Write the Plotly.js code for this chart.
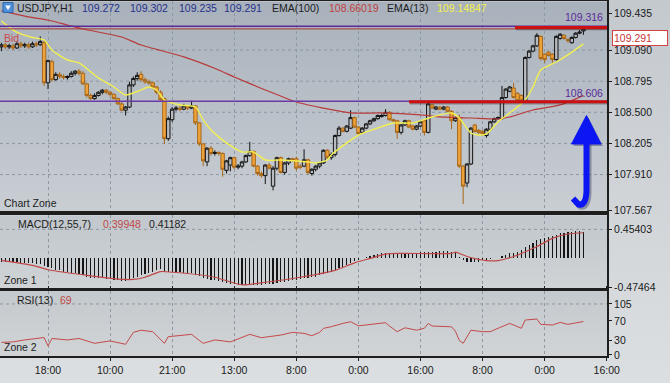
<!DOCTYPE html>
<html><head><meta charset="utf-8">
<script src="https://cdn.plot.ly/plotly-3.0.1.min.js"></script>
<style>html,body{margin:0;padding:0;background:#d4d8db;}#chart{width:670px;height:383px;}</style>
</head><body><div id="chart"></div>
<script>
// ---------- data ----------
const tickBars   = [12, 28, 44, 60, 76, 92, 108, 124, 140, 156];
const tickLabels = ['18:00','10:00','21:00','13:00','8:00','0:00','16:00','8:00','0:00','16:00'];
const priceTicks = [109.435, 109.090, 108.795, 108.500, 108.205, 107.910, 107.567];
const macdTicks  = [0.45403, -0.47464];
const rsiTicks   = [105, 70, 30, 0];

const openP = [
109.12,109.14,109.12,109.13,109.11,109.15,109.13,109.14,109.12,109.15,
109.14,109.16,108.78,108.98,108.81,108.86,108.84,108.83,108.84,108.87,
108.89,108.87,108.77,108.66,108.63,108.66,108.69,108.71,108.69,108.67,
108.63,108.58,108.52,108.55,108.76,108.82,108.86,108.81,108.79,108.78,
108.74,108.69,108.63,108.25,108.43,108.53,108.54,108.53,108.56,108.54,
108.56,108.40,108.20,108.03,108.16,108.11,108.12,108.11,107.95,108.00,
108.07,107.98,107.99,108.03,108.09,108.13,107.99,107.92,107.90,108.00,
107.80,107.97,108.07,107.93,108.02,108.06,108.06,107.99,107.99,108.05,
107.92,107.96,107.99,108.02,108.14,108.07,108.10,108.28,108.35,108.32,
108.35,108.45,108.36,108.31,108.35,108.39,108.42,108.44,108.46,108.47,
108.50,108.43,108.42,108.31,108.38,108.42,108.37,108.34,108.37,108.42,
108.31,108.57,108.53,108.55,108.53,108.55,108.51,108.42,108.45,107.99,
107.83,108.01,108.38,108.33,108.32,108.28,108.34,108.41,108.44,108.44,
108.64,108.70,108.73,108.68,108.66,108.61,109.02,109.08,109.13,109.22,
109.05,109.07,109.05,109.00,109.20,109.23,109.19,109.16,109.21,109.25,
109.272];
const highP = [
109.16,109.16,109.15,109.15,109.17,109.17,109.16,109.16,109.17,109.17,
109.22,109.18,109.00,109.00,108.88,108.88,108.86,108.85,108.89,108.90,
108.91,108.89,108.78,108.68,108.68,108.70,108.72,108.72,108.70,108.68,
108.64,108.60,108.56,108.79,108.84,108.88,108.89,108.83,108.81,108.79,
108.75,108.71,108.64,108.46,108.55,108.56,108.56,108.58,108.57,108.61,
108.57,108.41,108.21,108.17,108.18,108.14,108.13,108.12,108.05,108.08,
108.08,108.01,108.04,108.10,108.22,108.14,108.00,107.94,108.01,108.02,
107.99,108.08,108.08,108.03,108.07,108.07,108.08,108.01,108.15,108.06,
107.97,108.00,108.03,108.15,108.15,108.12,108.29,108.37,108.36,108.38,
108.52,108.46,108.37,108.36,108.40,108.43,108.45,108.48,108.49,108.53,
108.51,108.44,108.43,108.39,108.43,108.43,108.38,108.38,108.42,108.43,
108.61,108.58,108.56,108.56,108.56,108.56,108.52,108.46,108.48,108.00,
108.02,108.36,108.39,108.34,108.33,108.35,108.42,108.45,108.46,108.75,
108.73,108.75,108.78,108.69,108.67,109.03,109.09,109.14,109.25,109.23,
109.06,109.08,109.06,109.23,109.25,109.24,109.20,109.22,109.26,109.28,
109.302];
const lowP = [
109.08,109.10,109.10,109.09,109.10,109.11,109.11,109.10,109.11,109.12,
109.13,108.75,108.72,108.79,108.80,108.82,108.81,108.81,108.83,108.85,
108.85,108.76,108.64,108.62,108.62,108.65,108.67,108.67,108.65,108.62,
108.57,108.51,108.47,108.54,108.74,108.80,108.79,108.77,108.76,108.72,
108.67,108.60,108.20,108.23,108.41,108.51,108.51,108.52,108.52,108.53,
108.38,108.18,107.99,107.99,108.09,108.09,108.09,107.89,107.92,107.94,
107.96,107.96,107.97,108.02,108.08,107.98,107.90,107.88,107.82,107.96,
107.76,107.95,107.92,107.91,108.00,108.03,107.95,107.96,107.98,107.91,
107.90,107.94,107.97,108.01,108.06,108.05,108.08,108.27,108.31,108.31,
108.34,108.35,108.29,108.30,108.34,108.38,108.41,108.43,108.45,108.46,
108.42,108.41,108.25,108.29,108.37,108.35,108.33,108.33,108.36,108.28,
108.30,108.53,108.52,108.52,108.52,108.50,108.34,108.41,107.97,107.63,
107.79,108.00,108.31,108.29,108.28,108.26,108.33,108.40,108.43,108.43,
108.63,108.69,108.63,108.60,108.60,108.60,109.01,109.07,109.12,108.99,
108.97,109.03,108.97,108.99,109.19,109.19,109.16,109.15,109.20,109.24,
109.235];
const closeP = [
109.14,109.12,109.13,109.11,109.15,109.13,109.14,109.12,109.15,109.14,
109.17,108.78,108.99,108.81,108.86,108.84,108.83,108.84,108.87,108.89,
108.87,108.77,108.66,108.63,108.66,108.69,108.71,108.69,108.67,108.63,
108.58,108.52,108.55,108.76,108.82,108.85,108.81,108.79,108.78,108.74,
108.69,108.62,108.25,108.44,108.53,108.54,108.53,108.56,108.54,108.56,
108.40,108.20,108.04,108.16,108.11,108.12,108.11,107.96,108.04,108.07,
107.98,107.99,108.03,108.09,108.13,107.99,107.92,107.90,108.00,107.97,
107.97,108.07,107.93,108.02,108.06,108.05,107.97,107.98,108.05,107.93,
107.96,107.99,108.02,108.14,108.07,108.10,108.28,108.35,108.32,108.37,
108.45,108.36,108.30,108.35,108.39,108.42,108.44,108.47,108.47,108.50,
108.43,108.42,108.31,108.38,108.42,108.36,108.34,108.37,108.41,108.31,
108.58,108.54,108.55,108.53,108.55,108.51,108.42,108.45,107.99,107.80,
108.01,108.35,108.32,108.31,108.30,108.34,108.41,108.44,108.45,108.64,
108.72,108.74,108.64,108.61,108.61,109.02,109.08,109.13,109.23,109.01,
109.00,109.04,109.00,109.22,109.24,109.20,109.18,109.21,109.25,109.26,
109.291];

const ema13Idx = [0,3,5,8,11,13,17,20,25,29,32,36,38,40,42,46,50,52,54,56,58,62,65,68,72,79,81,84,85,89,92,97,101,106,111,116,118,121,123,125,128,132,135,137,139,143,146,150];
const ema13Val = [109.366,109.28,109.243,109.209,109.186,109.091,108.996,108.968,108.826,108.740,108.664,108.712,108.740,108.712,108.617,108.570,108.551,108.427,108.333,108.267,108.210,108.124,108.124,108.048,108.048,108.029,108.020,108.048,108.096,108.210,108.285,108.352,108.399,108.399,108.456,108.494,108.446,108.304,108.285,108.295,108.409,108.522,108.617,108.740,108.901,108.977,109.044,109.14847];

const ema100Idx = [0,7,12,17,21,31,36,47,56,60,68,76,84,90,98,108,113,121,128,131,137,144,150];
const ema100Val = [109.461,109.404,109.375,109.328,109.290,109.214,109.138,109.025,108.901,108.835,108.712,108.598,108.532,108.494,108.494,108.475,108.456,108.446,108.437,108.456,108.522,108.570,108.66019];

const macdHist = [
-0.06,-0.06,-0.07,-0.07,-0.07,-0.08,-0.08,-0.09,-0.09,-0.10,
-0.10,-0.13,-0.15,-0.17,-0.19,-0.20,-0.22,-0.23,-0.24,-0.25,
-0.26,-0.28,-0.30,-0.32,-0.33,-0.33,-0.33,-0.34,-0.34,-0.35,
-0.36,-0.37,-0.37,-0.35,-0.33,-0.31,-0.28,-0.26,-0.24,-0.22,
-0.19,-0.18,-0.22,-0.22,-0.22,-0.23,-0.23,-0.24,-0.24,-0.25,
-0.27,-0.29,-0.32,-0.34,-0.35,-0.36,-0.37,-0.39,-0.40,-0.41,
-0.42,-0.43,-0.43,-0.43,-0.43,-0.43,-0.43,-0.43,-0.42,-0.41,
-0.41,-0.40,-0.39,-0.38,-0.37,-0.36,-0.35,-0.34,-0.33,-0.32,
-0.31,-0.30,-0.28,-0.26,-0.25,-0.23,-0.20,-0.17,-0.14,-0.11,
-0.08,-0.05,-0.03,-0.01,0.01,0.03,0.05,0.06,0.07,0.08,
0.08,0.08,0.07,0.08,0.08,0.08,0.08,0.08,0.09,0.09,
0.10,0.10,0.10,0.11,0.11,0.11,0.10,0.10,0.02,-0.04,
-0.06,-0.06,-0.07,-0.06,-0.04,-0.03,-0.02,-0.01,0.00,0.03,
0.05,0.07,0.08,0.10,0.12,0.17,0.21,0.24,0.28,0.30,
0.31,0.33,0.34,0.37,0.39,0.40,0.41,0.41,0.42,0.43,
0.41182];
const signalIdx = [0,8,12,21,30,34,37,41,44,51,55,62,68,77,86,91,95,99,103,116,117,120,125,128,132,138,142,146,150];
const signalVal = [-0.04,-0.12,-0.19,-0.27,-0.34,-0.345,-0.31,-0.22,-0.23,-0.27,-0.31,-0.43,-0.39,-0.31,-0.20,-0.08,-0.01,0.06,0.07,0.07,0.09,0.02,-0.045,-0.045,0.02,0.18,0.31,0.38,0.39948];

const rsiIdx = [0,3,6,11,12,13,17,20,24,28,32,34,36,39,42,43,49,52,55,59,61,64,67,72,75,78,80,82,83,85,88,90,92,95,99,100,102,104,107,109,110,111,116,117,118,119,121,124,126,128,130,131,134,135,138,139,142,144,146,148,150];
const rsiVal = [26,27,31,36,18.5,34,31,34,24,29,22,46.6,51,48,24,37.7,42.5,24,31,27,33,42.5,35.6,41,46.6,44.5,39.7,46.6,54.8,58.2,65,68.5,60,63,66.5,59.6,48,56,51,55,65,59.6,58,49,30,24,51,48,48,55,61.7,65,55,72,74,63,61.7,67,63,66.5,69];

const headerOHLC = ['109.272','109.302','109.235','109.291'];
const symbol = 'USDJPY,H1';
const levelUpper = 109.316, levelLower = 108.606, bidPrice = 109.291;

// ---------- geometry helpers ----------
const W = 607, H = 356;
const px = x => x / W;
const py = y => (H - y) / H;
const FONT = 'Liberation Sans, Arial, sans-serif';
const bars = closeP.map((_, i) => i);

function grad(c1, c2) {
  const svg = "<svg xmlns='http://www.w3.org/2000/svg' width='10' height='100' viewBox='0 0 10 100' preserveAspectRatio='none'>" +
    "<defs><linearGradient id='g' x1='0' y1='0' x2='0' y2='1'><stop offset='0' stop-color='" + c1 + "'/><stop offset='1' stop-color='" + c2 + "'/></linearGradient></defs>" +
    "<rect width='10' height='100' fill='url(#g)'/></svg>";
  return 'data:image/svg+xml;charset=utf-8,' + encodeURIComponent(svg);
}
function bgImg(c1, c2, top, bottom, widthPx) {
  return {source: grad(c1, c2), xref:'paper', yref:'paper', x:0, y:py(top), sizex:(widthPx||W)/W, sizey:(bottom-top)/H,
          xanchor:'left', yanchor:'top', sizing:'stretch', layer:'below'};
}
function txt(text, x, y, color, extra) {
  return Object.assign({xref:'paper', yref:'paper', x:px(x), y:py(y), xanchor:'left', yanchor:'middle',
    text:text, showarrow:false, font:{family:FONT, size:10.5, color:color}}, extra || {});
}
function P(x, y) { return px(x).toFixed(5) + ',' + py(y).toFixed(5); }

// ---------- traces ----------
const traces = [
  {type:'candlestick', x:bars, open:openP, high:highP, low:lowP, close:closeP, xaxis:'x', yaxis:'y',
   increasing:{line:{color:'#141414', width:1}, fillcolor:'#b8bcc0'},
   decreasing:{line:{color:'#a8681a', width:1}, fillcolor:'#eea33a'},
   whiskerwidth:0, hoverinfo:'skip'},
  {type:'scatter', mode:'lines', x:ema100Idx, y:ema100Val, xaxis:'x', yaxis:'y',
   line:{color:'#b83a3a', width:1.2, shape:'spline', smoothing:0.6}, hoverinfo:'skip'},
  {type:'scatter', mode:'lines', x:ema13Idx, y:ema13Val, xaxis:'x', yaxis:'y',
   line:{color:'#f2f050', width:1.4, shape:'spline', smoothing:0.6}, hoverinfo:'skip'},
  {type:'bar', x:bars, y:macdHist, xaxis:'x', yaxis:'y2', width:0.3,
   marker:{color:'#151515', line:{width:0}}, hoverinfo:'skip'},
  {type:'scatter', mode:'lines', x:signalIdx, y:signalVal, xaxis:'x', yaxis:'y2',
   line:{color:'#c04848', width:1.2, shape:'spline', smoothing:0.6}, hoverinfo:'skip'},
  {type:'scatter', mode:'lines', x:rsiIdx, y:rsiVal, xaxis:'x', yaxis:'y3',
   line:{color:'#c44a4a', width:1}, hoverinfo:'skip'}
];

// ---------- shapes ----------
const gridStyle = {color:'#8e98a3', width:1, dash:'3px,3px'};
const shapes = [];
priceTicks.slice(1, -1).forEach(v => shapes.push({type:'line', xref:'paper', yref:'y', x0:0, x1:1, y0:v, y1:v, line:gridStyle, layer:'below'}));
shapes.push({type:'line', xref:'paper', yref:'y2', x0:0, x1:1, y0:macdTicks[0], y1:macdTicks[0], line:gridStyle, layer:'below'});
shapes.push({type:'line', xref:'paper', yref:'y3', x0:0, x1:1, y0:rsiTicks[0], y1:rsiTicks[0], line:gridStyle, layer:'below'});
// horizontal levels
shapes.push({type:'line', xref:'paper', yref:'y', x0:0, x1:1, y0:levelUpper, y1:levelUpper, line:{color:'#5b2a9a', width:1.5}});
shapes.push({type:'line', xref:'paper', yref:'y', x0:0, x1:1, y0:bidPrice, y1:bidPrice, line:{color:'#a83232', width:1}});
shapes.push({type:'line', xref:'paper', yref:'y', x0:0, x1:1, y0:levelLower, y1:levelLower, line:{color:'#6a3aa8', width:1.5}});
// thick red drawn segments (with soft shadow)
shapes.push({type:'line', xref:'paper', yref:'paper', x0:px(516), x1:1, y0:py(29.3), y1:py(29.3), line:{color:'rgba(40,20,20,0.35)', width:2}});
shapes.push({type:'line', xref:'paper', yref:'paper', x0:px(515), x1:1, y0:py(27.4), y1:py(27.4), line:{color:'#cc1010', width:3}});
shapes.push({type:'line', xref:'paper', yref:'paper', x0:px(410), x1:1, y0:py(103.6), y1:py(103.6), line:{color:'rgba(40,20,20,0.35)', width:2}});
shapes.push({type:'line', xref:'paper', yref:'paper', x0:px(409), x1:1, y0:py(101.7), y1:py(101.7), line:{color:'#cc1010', width:3}});
// blue arrow (shadow then arrow)
const shaft = (dx, dy) => 'M ' + P(586.5+dx, 142+dy) + ' L ' + P(586.5+dx, 191+dy) + ' Q ' + P(586+dx, 206+dy) + ' ' + P(578.5+dx, 204.5+dy) + ' L ' + P(573+dx, 198.5+dy);
const head = (dx, dy) => 'M ' + P(571.5+dx, 144+dy) + ' L ' + P(601+dx, 144+dy) + ' L ' + P(586.5+dx, 115.5+dy) + ' Z';
shapes.push({type:'path', xref:'paper', yref:'paper', path:shaft(2,2), line:{color:'rgba(30,30,70,0.35)', width:6}});
shapes.push({type:'path', xref:'paper', yref:'paper', path:head(2,2), fillcolor:'rgba(30,30,70,0.35)', line:{width:0}});
shapes.push({type:'path', xref:'paper', yref:'paper', path:shaft(0,0), line:{color:'#0b16f2', width:6}});
shapes.push({type:'path', xref:'paper', yref:'paper', path:head(0,0), fillcolor:'#0b16f2', line:{color:'#0b16f2', width:1}});
// small header icon
shapes.push({type:'rect', xref:'paper', yref:'paper', x0:px(3), x1:px(13), y0:py(12.5), y1:py(2.5), fillcolor:'#4e90dc', line:{color:'#2d64ad', width:1}});
shapes.push({type:'path', xref:'paper', yref:'paper', path:'M ' + P(5.3, 5.5) + ' L ' + P(10.7, 5.5) + ' L ' + P(8, 10.3) + ' Z', fillcolor:'#ffffff', line:{width:0}});

// ---------- annotations ----------
const annotations = [
  txt(symbol, 15, 8.5, '#1c1c1c'),
  txt(headerOHLC[0], 80, 8.5, '#25308c'),
  txt(headerOHLC[1], 128, 8.5, '#25308c'),
  txt(headerOHLC[2], 176.5, 8.5, '#25308c'),
  txt(headerOHLC[3], 222, 8.5, '#25308c'),
  txt('EMA(100)', 270, 8.5, '#1c1c1c'),
  txt(ema100Val[ema100Val.length-1].toFixed(5), 327, 8.5, '#c04040'),
  txt('EMA(13)', 385, 8.5, '#1c1c1c'),
  txt(ema13Val[ema13Val.length-1].toFixed(5), 435, 8.5, '#f4f04a'),
  txt('Bid', 2, 37.5, '#cc4a4a'),
  txt(levelUpper.toFixed(3), 605, 17, '#5b2a9a', {xanchor:'right'}),
  txt(levelLower.toFixed(3), 605, 93.5, '#5b2a9a', {xanchor:'right'}),
  txt('Chart Zone', 2, 203.5, '#1c1c1c'),
  txt('MACD(12,55,7)', 16, 224, '#1c1c1c'),
  txt(signalVal[signalVal.length-1].toFixed(5), 101, 224, '#c04848'),
  txt(macdHist[macdHist.length-1].toFixed(5), 147, 224, '#1c1c1c'),
  txt('Zone 1', 2, 279.5, '#1c1c1c'),
  txt('RSI(13)', 15, 300, '#1c1c1c'),
  txt(String(rsiVal[rsiVal.length-1]), 58, 300, '#c04848'),
  txt('Zone 2', 2, 347, '#1c1c1c'),
  txt(bidPrice.toFixed(3), 611.5, 37.5, '#c83434', {bgcolor:'#ffffff', bordercolor:'#d04444', borderwidth:1, borderpad:1, width:52, align:'left'})
];

// ---------- layout ----------
const axisLine = {showline:true, linecolor:'#1e1e1e', linewidth:2, zeroline:false, fixedrange:true,
                  ticks:'outside', ticklen:3, tickcolor:'#1e1e1e', tickfont:{family:FONT, size:10.5, color:'#1a1a1a'}};
const layout = {
  width:670, height:383,
  margin:{l:0, r:63, t:0, b:27, pad:0},
  paper_bgcolor:'#d3d7da', plot_bgcolor:'rgba(0,0,0,0)',
  showlegend:false, hovermode:false, bargap:0,
  boxgap:0.12, boxgroupgap:0,
  font:{family:FONT, size:10.5, color:'#1a1a1a'},
  xaxis:Object.assign({}, axisLine, {domain:[0,1], anchor:'y3', range:[-0.37, 156.07], tickmode:'array', tickvals:tickBars, ticktext:tickLabels,
        showgrid:true, gridcolor:'#8e98a3', griddash:'3px,3px', gridwidth:1, mirror:'all', rangeslider:{visible:false}}),
  yaxis:Object.assign({}, axisLine, {domain:[0.4059, 0.9958], anchor:'x', side:'right', range:[107.560, 109.5505], mirror:true,
        tickmode:'array', tickvals:priceTicks, ticktext:priceTicks.map(v => v.toFixed(3)), showgrid:false}),
  yaxis2:Object.assign({}, axisLine, {domain:[0.1910, 0.3947], anchor:'x', side:'right', range:[-0.4817, 0.675], mirror:true,
        tickmode:'array', tickvals:macdTicks, ticktext:macdTicks.map(v => v.toFixed(5)), showgrid:false}),
  yaxis3:Object.assign({}, axisLine, {domain:[0, 0.1826], anchor:'x', side:'right', range:[-2.06, 131.7], mirror:true,
        tickmode:'array', tickvals:rsiTicks, ticktext:rsiTicks.map(String), showgrid:false}),
  images:[
    {source:grad('#c4c9ce', '#dcdfe1'), xref:'paper', yref:'paper', x:0, y:1, sizex:670/W, sizey:383/H, xanchor:'left', yanchor:'top', sizing:'stretch', layer:'below'},
    bgImg('#a8b1bb', '#c9ced3', 1.5, 211.5),
    bgImg('#c1c7cc', '#cfd3d6', 215.5, 288),
    bgImg('#c4c9cd', '#d1d4d7', 291, 356)
  ],
  shapes:shapes,
  annotations:annotations
};

Plotly.newPlot('chart', traces, layout, {staticPlot:true, displayModeBar:false});
</script>
</body></html>
